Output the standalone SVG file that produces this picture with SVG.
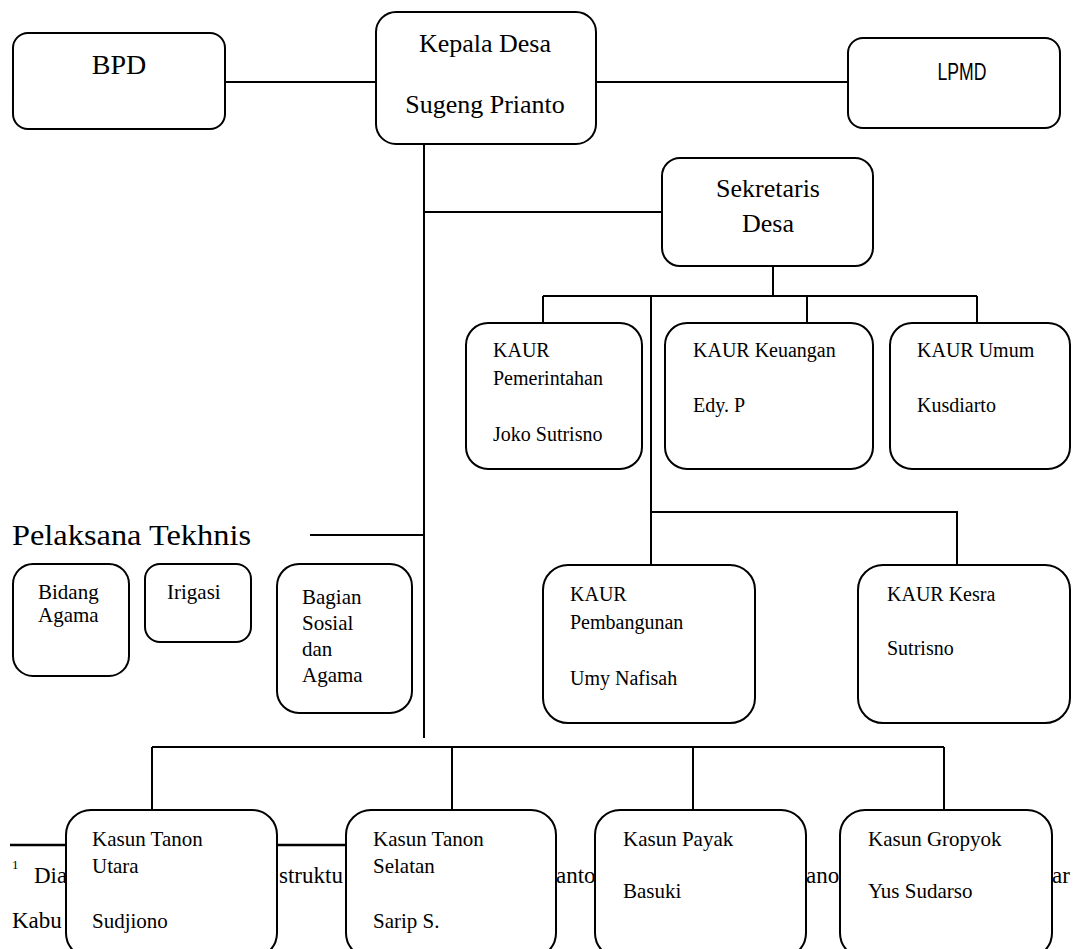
<svg xmlns="http://www.w3.org/2000/svg" width="1073" height="949" viewBox="0 0 1073 949">
<style>
.box{fill:#fff;stroke:#000;stroke-width:2}
.ln{fill:none;stroke:#000;stroke-width:2}
.t{font-family:"Liberation Serif","Times New Roman",serif;fill:#000}
.s{font-family:"Liberation Sans",Arial,sans-serif;fill:#000}
.k{font-size:20px}
.m{font-size:21px}
.f{font-size:23px}
</style>
<rect width="1073" height="949" fill="#fff"/>
<g id="connectors">
<path class="ln" d="M225 82H376M596 82H848"/>
<path class="ln" d="M424 144V738M424 212H662"/>
<path class="ln" d="M773 266V296M543 296H977M543 296V323M807 296V323M977 296V323"/>
<path class="ln" d="M651 296V565M651 512H957V565"/>
<path class="ln" d="M310 535H424"/>
<path class="ln" d="M152 747H944M152 747V810M452 747V810M693 747V810M944 747V810"/>
</g>
<g id="footnote">
<line x1="10" y1="845" x2="400" y2="845" stroke="#000" stroke-width="2.5"/>
<text class="t" x="12" y="869" font-size="13">1</text>
<text class="t f" x="34" y="883">Dia</text>
<text class="t f" x="279" y="883">struktu</text>
<text class="t f" x="556" y="883">anto</text>
<text class="t f" x="806" y="883">ano</text>
<text class="t f" x="1052" y="883">ar</text>
<text class="t f" x="12" y="928">Kabu</text>
</g>
<g id="bpd">
<rect class="box" x="13" y="33" width="212" height="96" rx="15"/>
<text class="t" x="119" y="74" font-size="28" text-anchor="middle">BPD</text>
</g>
<g id="kepala-desa">
<rect class="box" x="376" y="12" width="220" height="132" rx="20"/>
<text class="t" x="485" y="52" font-size="26" text-anchor="middle">Kepala Desa</text>
<text class="t" x="485" y="113" font-size="26" text-anchor="middle">Sugeng Prianto</text>
</g>
<g id="lpmd">
<rect class="box" x="848" y="38" width="212" height="90" rx="15"/>
<text class="s" x="962" y="80" font-size="23" text-anchor="middle" textLength="49" lengthAdjust="spacingAndGlyphs">LPMD</text>
</g>
<g id="sekretaris-desa">
<rect class="box" x="662" y="158" width="211" height="108" rx="18"/>
<text class="t" x="768" y="197" font-size="26" text-anchor="middle">Sekretaris</text>
<text class="t" x="768" y="232" font-size="26" text-anchor="middle">Desa</text>
</g>
<g id="kaur-pemerintahan">
<rect class="box" x="466" y="323" width="176" height="146" rx="22"/>
<text class="t k" x="493" y="357">KAUR</text>
<text class="t k" x="493" y="385">Pemerintahan</text>
<text class="t k" x="493" y="441">Joko Sutrisno</text>
</g>
<g id="kaur-keuangan">
<rect class="box" x="665" y="323" width="208" height="146" rx="22"/>
<text class="t k" x="693" y="357">KAUR Keuangan</text>
<text class="t k" x="693" y="412">Edy. P</text>
</g>
<g id="kaur-umum">
<rect class="box" x="890" y="323" width="180" height="146" rx="22"/>
<text class="t k" x="917" y="357">KAUR Umum</text>
<text class="t k" x="917" y="412">Kusdiarto</text>
</g>
<g id="pelaksana-tekhnis">
<text class="t" x="12" y="545" font-size="30" textLength="239" lengthAdjust="spacingAndGlyphs">Pelaksana Tekhnis</text>
</g>
<g id="bidang-agama">
<rect class="box" x="13" y="564" width="116" height="112" rx="20"/>
<text class="t m" x="38" y="599">Bidang</text>
<text class="t m" x="38" y="622">Agama</text>
</g>
<g id="irigasi">
<rect class="box" x="145" y="564" width="106" height="78" rx="15"/>
<text class="t m" x="167" y="599">Irigasi</text>
</g>
<g id="bagian-sosial">
<rect class="box" x="277" y="564" width="135" height="149" rx="22"/>
<text class="t m" x="302" y="604">Bagian</text>
<text class="t m" x="302" y="630">Sosial</text>
<text class="t m" x="302" y="656">dan</text>
<text class="t m" x="302" y="682">Agama</text>
</g>
<g id="kaur-pembangunan">
<rect class="box" x="543" y="565" width="212" height="158" rx="25"/>
<text class="t k" x="570" y="601">KAUR</text>
<text class="t k" x="570" y="629">Pembangunan</text>
<text class="t k" x="570" y="685">Umy Nafisah</text>
</g>
<g id="kaur-kesra">
<rect class="box" x="858" y="565" width="212" height="158" rx="25"/>
<text class="t k" x="887" y="601">KAUR Kesra</text>
<text class="t k" x="887" y="655">Sutrisno</text>
</g>
<g id="kasun-tanon-utara">
<rect class="box" x="66" y="810" width="211" height="148" rx="25"/>
<text class="t m" x="92" y="846">Kasun Tanon</text>
<text class="t m" x="92" y="873">Utara</text>
<text class="t m" x="92" y="928">Sudjiono</text>
</g>
<g id="kasun-tanon-selatan">
<rect class="box" x="346" y="810" width="210" height="148" rx="25"/>
<text class="t m" x="373" y="846">Kasun Tanon</text>
<text class="t m" x="373" y="873">Selatan</text>
<text class="t m" x="373" y="928">Sarip S.</text>
</g>
<g id="kasun-payak">
<rect class="box" x="595" y="810" width="211" height="148" rx="25"/>
<text class="t m" x="623" y="846">Kasun Payak</text>
<text class="t m" x="623" y="898">Basuki</text>
</g>
<g id="kasun-gropyok">
<rect class="box" x="840" y="810" width="212" height="148" rx="25"/>
<text class="t m" x="868" y="846">Kasun Gropyok</text>
<text class="t m" x="868" y="898">Yus Sudarso</text>
</g>
</svg>
